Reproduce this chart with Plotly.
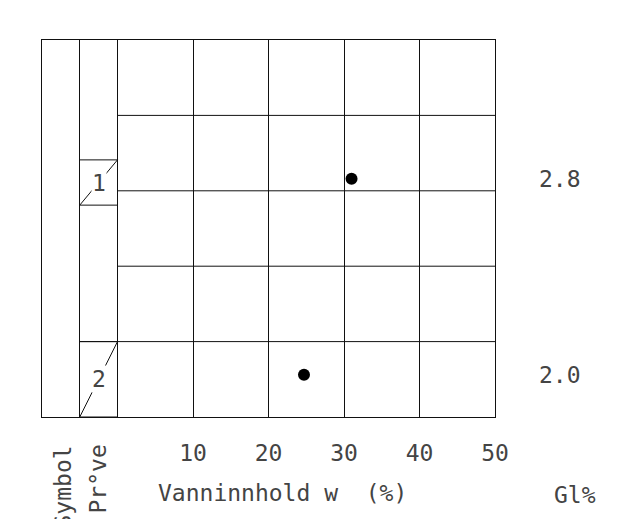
import plotly.graph_objects as go

# ---- data ----
water_content = [31.0, 24.7]          # Vanninnhold w (%)
point_depth = [1.84, 4.44]            # vertical position (row units from top)
sample_labels = ["1", "2"]
sample_top = [1.59, 4.0]
sample_bottom = [2.19, 5.0]
gl_values = ["2.8", "2.0"]            # Gl%
x_ticks = [10, 20, 30, 40, 50]
row_lines = [1, 2, 3, 4]

FONT = "DejaVu Sans Mono, monospace"
FS = 23
LINE = "#111111"
TXT = "#444444"

W, H = 635, 519
ml, mr, mt, mb = 42, 140, 40, 102
pw = W - ml - mr
ph = H - mt - mb

def px_to_paper_x(px):
    return (px - ml) / pw

def px_to_paper_y(py):
    return (H - mb - py) / ph

fig = go.Figure()
fig.add_trace(go.Scatter(
    x=water_content, y=point_depth, mode="markers",
    marker=dict(color="black", size=12), showlegend=False, hoverinfo="skip"))

shapes = []
for r in row_lines:
    x0 = -5 if r == row_lines[-1] else 0
    shapes.append(dict(type="line", xref="x", yref="y", x0=x0, x1=50, y0=r, y1=r,
                       line=dict(color=LINE, width=1)))
for t, b in zip(sample_top, sample_bottom):
    shapes.append(dict(type="line", xref="x", yref="y", x0=-5, x1=0, y0=t, y1=t,
                       line=dict(color=LINE, width=1)))
    shapes.append(dict(type="line", xref="x", yref="y", x0=-5, x1=0, y0=b, y1=b,
                       line=dict(color=LINE, width=1)))
    shapes.append(dict(type="line", xref="x", yref="y", x0=0, x1=-5, y0=t, y1=b,
                       line=dict(color=LINE, width=1)))

font = dict(family=FONT, size=FS, color=TXT)
annotations = []
for lab, t, b in zip(sample_labels, sample_top, sample_bottom):
    annotations.append(dict(x=-2.5, y=(t + b) / 2, xref="x", yref="y", text=lab,
                            xanchor="center", yanchor="middle",
                            showarrow=False, bgcolor="white", borderpad=0, font=font))
for g, d in zip(gl_values, point_depth):
    annotations.append(dict(x=px_to_paper_x(560), y=d, xref="paper", yref="y", text=g,
                            xanchor="center", yanchor="middle", showarrow=False, font=font))
annotations.append(dict(x=px_to_paper_x(282), y=px_to_paper_y(493), xref="paper", yref="paper",
                        text="Vanninnhold w\u00a0\u00a0(%)", showarrow=False,
                        xanchor="center", yanchor="middle", font=font))
annotations.append(dict(x=px_to_paper_x(575), y=px_to_paper_y(495), xref="paper", yref="paper",
                        text="Gl%", showarrow=False, xanchor="center", yanchor="middle", font=font))
annotations.append(dict(x=px_to_paper_x(62), y=px_to_paper_y(444), xref="paper", yref="paper",
                        text="Symbol", textangle=-90, showarrow=False,
                        xanchor="center", yanchor="top", font=font))
annotations.append(dict(x=px_to_paper_x(98), y=px_to_paper_y(443), xref="paper", yref="paper",
                        text="Pr°ve", textangle=-90, showarrow=False,
                        xanchor="center", yanchor="top", font=font))

fig.update_layout(
    width=W, height=H, margin=dict(l=ml, r=mr, t=mt, b=mb),
    paper_bgcolor="white", plot_bgcolor="white",
    shapes=shapes, annotations=annotations,
    xaxis=dict(range=[-10, 50], tickvals=[-10, -5, 0] + x_ticks,
               ticktext=["", "", ""] + [str(v) for v in x_ticks],
               showgrid=True, gridcolor=LINE, gridwidth=1,
               showline=True, linecolor=LINE, linewidth=1, mirror=True,
               zeroline=False, ticks="", ticklabelstandoff=15,
               tickfont=font),
    yaxis=dict(range=[5, 0], showgrid=False, showticklabels=False, ticks="",
               showline=True, linecolor=LINE, linewidth=1, mirror=True, zeroline=False),
)
fig.write_html("out.html")
